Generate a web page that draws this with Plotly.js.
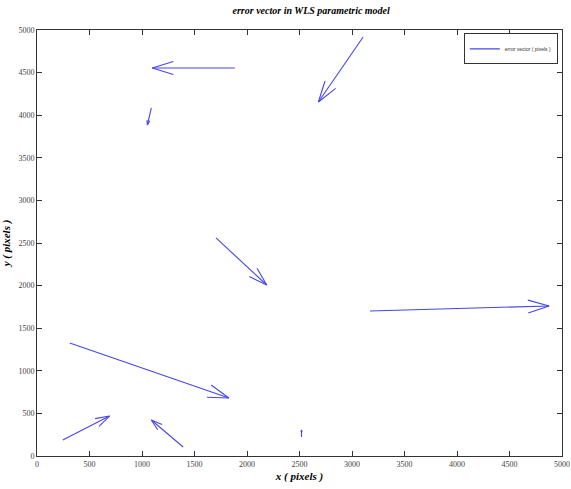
<!DOCTYPE html>
<html><head><meta charset="utf-8">
<script src="https://cdn.plot.ly/plotly-3.0.1.min.js"></script>
<style>html,body{margin:0;padding:0;background:#fff}#chart{width:571px;height:489px}</style>
</head><body><div id="chart"></div>
<script>
// Vector tails (pixels) and components (pixels)
const tailX = [3106, 1884, 1089, 1705, 3172, 312, 246, 1392, 2519];
const tailY = [4918, 4554, 4085, 2559, 1702, 1326, 188, 106, 223];
const vecU  = [-426, -786, -38, 483, 1705, 1516, 445, -303, 0];
const vecV  = [-763, 0, -200, -552, 59, -645, 281, 317, 82];
const tickVals = [0,500,1000,1500,2000,2500,3000,3500,4000,4500,5000];

const M = {l:37, r:9, t:30, b:33};
const W = 571, H = 489;
const sx = (W - M.l - M.r) / 5000, sy = (H - M.t - M.b) / 5000;

const xs = [], ys = [];
for (let i = 0; i < tailX.length; i++) {
  const hx = tailX[i] + vecU[i], hy = tailY[i] + vecV[i];
  xs.push(tailX[i], hx, null);
  ys.push(tailY[i], hy, null);
  const dx = vecU[i]*sx, dy = vecV[i]*sy, L = Math.hypot(dx, dy);
  if (L < 1e-6) continue;
  const h = Math.min(0.28*L, 22), a = 17*Math.PI/180;
  const ux = dx/L, uy = dy/L;
  [a, -a].forEach(ang => {
    const rx = ux*Math.cos(ang) - uy*Math.sin(ang);
    const ry = ux*Math.sin(ang) + uy*Math.cos(ang);
    xs.push(hx - h*rx/sx, hx, null);
    ys.push(hy - h*ry/sy, hy, null);
  });
}

const trace = {
  x: xs, y: ys, mode: 'lines', type: 'scatter',
  name: 'error vector ( pixels )',
  line: {color: 'rgb(70,70,235)', width: 1.1},
  connectgaps: false, hoverinfo: 'skip'
};

const axBase = {
  range: [0, 5000], tickvals: tickVals, ticktext: tickVals.map(String),
  ticks: 'inside', ticklen: 5, tickcolor: '#333', showline: true, linecolor: '#333',
  linewidth: 1, mirror: 'ticks', showgrid: false, zeroline: false,
  ticklabeloverflow: 'allow',
  tickfont: {family: 'Liberation Serif', size: 8, color: '#444'}
};

const layout = {
  width: W, height: H, margin: M,
  paper_bgcolor: '#fff', plot_bgcolor: '#fff',
  title: {text: 'error vector in WLS parametric model', x: 0.545, xanchor: 'center', y: 0.985, yanchor: 'top',
          font: {family: 'Liberation Serif', size: 10, color: '#000', weight: 'bold', style: 'italic'}},
  xaxis: Object.assign({}, axBase, {title: {text: 'x ( pixels )', standoff: 4,
          font: {family: 'Liberation Serif', size: 11, color: '#000', weight: 'bold', style: 'italic'}}}),
  yaxis: Object.assign({}, axBase, {title: {text: 'y ( pixels )', standoff: 6,
          font: {family: 'Liberation Serif', size: 11, color: '#000', weight: 'bold', style: 'italic'}}}),
  showlegend: true,
  legend: {x: 0.992, y: 0.992, xanchor: 'right', yanchor: 'top', bgcolor: '#fff',
           bordercolor: '#333', borderwidth: 1, font: {family: 'Liberation Sans', size: 5, color: '#333'},
           itemwidth: 30, tracegroupgap: 0}
};

Plotly.newPlot('chart', [trace], layout, {displayModeBar: false, staticPlot: true});
</script></body></html>
